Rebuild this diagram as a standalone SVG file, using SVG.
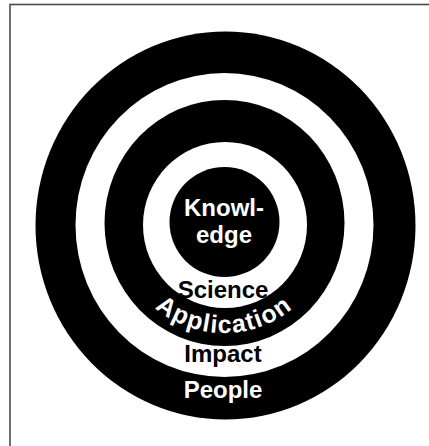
<svg xmlns="http://www.w3.org/2000/svg" width="429" height="446" viewBox="0 0 429 446">
  <style>
    .lbl { font-family: "Liberation Sans", Arial, sans-serif; font-weight: bold; font-size: 24px; text-anchor: middle; }
    .arc { font-size: 25px; letter-spacing: 1.3px; }
    .w { fill: #ffffff; }
    .k { fill: #000000; }
  </style>
  <defs>
    <path id="appArc" d="M 116 225 A 108 108 0 1 0 332 225"/>
  </defs>
  <rect x="0" y="0" width="429" height="446" fill="#ffffff"/>
  <rect x="10" y="4.5" width="460" height="480" fill="none" stroke="#4a4a4a" stroke-width="1.6"/>
  <g id="people">
    <ellipse cx="225.5" cy="225.5" rx="190" ry="194" class="k"/>
    <text x="223" y="398" class="lbl w">People</text>
  </g>
  <g id="impact">
    <ellipse cx="224.5" cy="225" rx="149" ry="152" class="w"/>
    <text x="223" y="362" class="lbl k">Impact</text>
  </g>
  <g id="application">
    <ellipse cx="224.5" cy="223" rx="120" ry="123" class="k"/>
    <text class="lbl arc w"><textPath href="#appArc" startOffset="50%">Application</textPath></text>
  </g>
  <g id="science">
    <ellipse cx="225" cy="225" rx="82" ry="83" class="w"/>
    <text x="223" y="298" class="lbl k">Science</text>
  </g>
  <g id="knowledge">
    <circle cx="224.5" cy="222" r="55" class="k"/>
    <text x="224" y="216" class="lbl w">Knowl-</text>
    <text x="224" y="243" class="lbl w">edge</text>
  </g>
  <g id="connectors"/>
</svg>
